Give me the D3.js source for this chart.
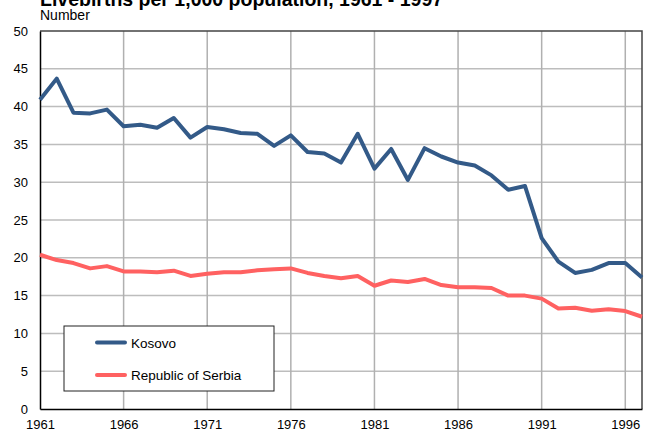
<!DOCTYPE html>
<html>
<head>
<meta charset="utf-8">
<script src="https://cdn.jsdelivr.net/npm/d3@7"></script>
<style>
  body { margin: 0; background: #fff; }
  svg { display: block; font-family: "Liberation Sans", Arial, sans-serif; }
</style>
</head>
<body>
<div id="chart"></div>
<script>
const years = d3.range(1961, 1998);
const kosovo = [40.9, 43.7, 39.2, 39.1, 39.6, 37.4, 37.6, 37.2, 38.5, 35.9,
  37.3, 37.0, 36.5, 36.4, 34.8, 36.2, 34.0, 33.8, 32.6, 36.4,
  31.8, 34.4, 30.3, 34.5, 33.4, 32.6, 32.2, 30.9, 29.0, 29.5,
  22.6, 19.5, 18.0, 18.4, 19.3, 19.3, 17.4];
const serbia = [20.4, 19.7, 19.3, 18.6, 18.9, 18.2, 18.2, 18.1, 18.3, 17.6,
  17.9, 18.1, 18.1, 18.35, 18.5, 18.6, 18.0, 17.6, 17.3, 17.6,
  16.3, 17.0, 16.8, 17.2, 16.4, 16.1, 16.1, 16.0, 15.0, 15.0,
  14.6, 13.3, 13.4, 13.0, 13.2, 12.95, 12.2];
const xTicks = [1961, 1966, 1971, 1976, 1981, 1986, 1991, 1996];
const yTicks = [0, 5, 10, 15, 20, 25, 30, 35, 40, 45, 50];
const seriesNames = ["Kosovo", "Republic of Serbia"];
const colors = ["#335a88", "#ff6161"];

const width = 648, height = 432;
const margin = { top: 31, right: 6, bottom: 23, left: 40 };

const svg = d3.select("#chart").append("svg")
    .attr("width", width)
    .attr("height", height);

const x = d3.scaleLinear().domain([1961, 1997]).range([margin.left, width - margin.right]);
const y = d3.scaleLinear().domain([0, 50]).range([height - margin.bottom, margin.top]);

// title (partly cut off at the top, as in the source)
svg.append("text")
    .attr("x", 40).attr("y", 6)
    .attr("font-size", 19.5).attr("font-weight", "bold")
    .attr("fill", "#000")
    .text("Livebirths per 1,000 population, 1961 - 1997");

svg.append("text")
    .attr("x", 40).attr("y", 19.5)
    .attr("font-size", 14)
    .attr("fill", "#000")
    .text("Number");

// grid
svg.append("g")
    .attr("stroke", "#bdbdbd")
    .attr("stroke-width", 1.5)
    .selectAll("line")
    .data(yTicks.slice(1, -1))
    .join("line")
    .attr("x1", x(1961)).attr("x2", x(1997))
    .attr("y1", d => y(d)).attr("y2", d => y(d));

svg.append("g")
    .attr("stroke", "#b0b0b0")
    .attr("stroke-width", 1.5)
    .selectAll("line")
    .data(xTicks.slice(1))
    .join("line")
    .attr("x1", d => x(d)).attr("x2", d => x(d))
    .attr("y1", y(0)).attr("y2", y(50));

// frame: top and right
svg.append("path")
    .attr("fill", "none")
    .attr("stroke", "#444")
    .attr("stroke-width", 1.5)
    .attr("d", `M${x(1961)},${y(50)}H${x(1997)}V${y(0)}`);

// axes
const yAxis = svg.append("g")
    .attr("transform", `translate(${x(1961)},0)`)
    .call(d3.axisLeft(y).tickValues(yTicks).tickSize(0).tickPadding(12));
const xAxis = svg.append("g")
    .attr("transform", `translate(0,${y(0)})`)
    .call(d3.axisBottom(x).tickValues(xTicks).tickFormat(d3.format("d")).tickSize(0).tickPadding(11));

[yAxis, xAxis].forEach(a => {
    a.select(".domain").attr("stroke", "#000").attr("stroke-width", 1.5);
    a.selectAll("text").attr("font-size", 13).attr("fill", "#000")
        .attr("font-family", "Liberation Sans, Arial, sans-serif");
});

// lines
const line = d3.line()
    .x((d, i) => x(years[i]))
    .y(d => y(d));

[kosovo, serbia].forEach((s, i) => {
    svg.append("path")
        .datum(s)
        .attr("fill", "none")
        .attr("stroke", colors[i])
        .attr("stroke-width", 4)
        .attr("stroke-linejoin", "round")
        .attr("d", line);
});

// legend
const legend = svg.append("g");
legend.append("rect")
    .attr("x", 64).attr("y", 326)
    .attr("width", 210).attr("height", 65)
    .attr("fill", "#fff")
    .attr("stroke", "#222")
    .attr("stroke-width", 1);

seriesNames.forEach((name, i) => {
    const ly = 342.5 + i * 32.5;
    legend.append("line")
        .attr("x1", 97).attr("x2", 125)
        .attr("y1", ly).attr("y2", ly)
        .attr("stroke", colors[i])
        .attr("stroke-width", 4)
        .attr("stroke-linecap", "round");
    legend.append("text")
        .attr("x", 131).attr("y", ly + 5)
        .attr("font-size", 13.5)
        .attr("fill", "#000")
        .text(name);
});
</script>
</body>
</html>
